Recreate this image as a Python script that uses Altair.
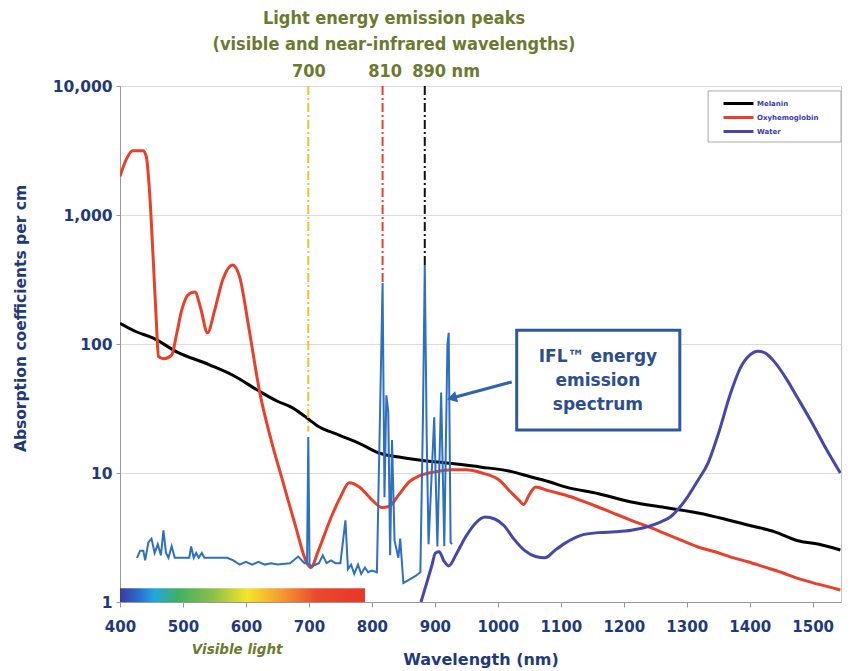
import altair as alt
import pandas as pd

# ---------------- data ----------------
mel_wl = [400, 425, 453, 490, 542, 580, 618, 650, 674, 700, 712, 748, 780, 811, 843, 875,
          922, 974, 1020, 1053, 1080, 1107, 1160, 1212, 1265, 1318, 1360, 1397, 1440, 1475, 1510, 1544]
mel_ab = [145, 125, 111, 87, 69, 57, 44, 36, 32, 26, 23.5, 19.7, 17, 14.3, 13.3, 12.6,
          11.9, 11.1, 10.3, 9.3, 8.6, 7.8, 6.9, 5.95, 5.4, 4.9, 4.4, 3.95, 3.5, 3.0, 2.8, 2.53]

oxy_wl = [400, 410, 420, 437, 442, 447, 453, 458, 461, 470, 482, 490, 498, 510, 519, 528, 539,
          550, 563, 579, 590, 605, 622, 640, 658, 678, 697, 703, 715, 735, 750, 764, 780, 800,
          816, 827, 843, 860, 875, 900, 927, 949, 975, 1001, 1022, 1033, 1041, 1050, 1060, 1080,
          1107, 1133, 1159, 1185, 1212, 1238, 1265, 1292, 1318, 1345, 1370, 1397, 1423, 1450,
          1475, 1510, 1544]
oxy_ab = [2000, 2700, 3150, 3150, 2800, 1500, 430, 140, 80, 77, 82, 120, 183, 245, 253, 190, 122,
          180, 313, 410, 331, 130, 42, 18, 8.8, 4.0, 2.0, 1.85, 2.5, 4.5, 6.5, 8.4, 7.8, 6.2,
          5.4, 5.5, 6.8, 8.6, 9.5, 10.2, 10.6, 10.6, 10.0, 8.9, 7.0, 6.2, 5.7, 6.8, 7.8, 7.3,
          6.75, 6.1, 5.45, 4.85, 4.3, 3.85, 3.4, 3.0, 2.67, 2.45, 2.23, 2.05, 1.87, 1.7,
          1.53, 1.37, 1.24]

wat_wl = [878, 887, 895, 901, 907, 914, 922, 935, 949, 965, 980, 995, 1010, 1025, 1043, 1060,
          1075, 1090, 1107, 1133, 1160, 1186, 1212, 1239, 1260, 1275, 1290, 1302, 1318, 1334,
          1350, 1370, 1385, 1400, 1413, 1425, 1440, 1460, 1475, 1500, 1518, 1544]
wat_ab = [1.0, 1.4, 1.9, 2.4, 2.45, 2.1, 1.9, 2.4, 3.2, 4.1, 4.55, 4.4, 3.9, 3.1, 2.5, 2.25,
          2.2, 2.5, 2.86, 3.3, 3.45, 3.5, 3.6, 3.85, 4.2, 4.6, 5.5, 6.6, 8.8, 12,
          20, 42, 65, 82, 88, 85, 72, 52, 39, 24, 16.5, 10]

ifl_wl = [427, 432, 437, 440, 445, 450, 455, 460, 465, 469, 473, 477, 482, 487, 510, 513, 517,
          521, 525, 530, 534, 540, 570, 580, 590, 600, 610, 620, 630, 640, 650, 670, 683, 693,
          697, 699, 701, 705, 716, 722, 728, 735, 742, 750, 758, 762, 767, 772, 778, 783, 789,
          794, 800, 808, 813, 817, 820, 823, 826, 829, 832, 836, 842, 845, 850, 860, 870, 877,
          881, 884, 887, 890, 899, 904, 910, 915, 920, 922, 925, 927]
ifl_ab = [2.2, 2.5, 2.5, 2.1, 2.9, 3.1, 2.4, 2.8, 2.3, 3.6, 2.4, 2.2, 2.7, 2.2, 2.2, 2.7, 2.2,
          2.4, 2.2, 2.4, 2.2, 2.2, 2.2, 2.1, 1.95, 2.05, 1.95, 2.05, 1.95, 2.0, 1.95, 2.0, 2.25, 2.0,
          2.0, 19, 1.95, 1.9, 2.0, 2.3, 2.0, 2.1, 2.0, 2.0, 4.3, 1.8, 1.95, 1.65, 1.95, 1.65, 1.85,
          1.7, 1.75, 1.7, 30, 297, 6.5, 40, 30, 2.3, 18, 3.0, 2.2, 3.1, 1.4, 1.5, 1.6, 1.7,
          25, 410, 20, 2.8, 27, 2.7, 42, 2.7, 100, 122, 2.9, 2.8]

series_names = ["Melanin", "Oxyhemoglobin", "Water"]
series_colors = ["#000000", "#e8402a", "#4547a9"]

peak_wl = [699, 817, 884]
peak_top = [21, 290, 410]
peak_colors = ["#f2c12e", "#e8402a", "#111111"]

peak_labels_c = ["700", "810"]
peak_label_c_wl = [700, 821]
peak_labels_l = ["890 nm"]
peak_label_l_wl = [864]

x_ticks = [400, 500, 600, 700, 800, 900, 1000, 1100, 1200, 1300, 1400, 1500]
y_ticks = [1, 10, 100, 1000, 10000]

callout_lines = ["IFL\u2122 energy", "emission", "spectrum"]
callout_line_ab = [79.3, 51.7, 33.7]
callout_center_wl = 1159
callout_box = {"wl0": 1030, "wl1": 1289, "ab0": 21.5, "ab1": 128}
arrow = {"wl0": 1022, "ab0": 50.8, "wl1": 927, "ab1": 38.1}

legend_box = {"wl0": 1334, "wl1": 1545, "ab0": 3680, "ab1": 9150}

visible_band = {"wl0": 400, "wl1": 789, "ab0": 1, "ab1": 1.28}

title_line1 = "Light energy emission peaks"
title_line2 = "(visible and near-infrared wavelengths)"

# ---------------- tables ----------------
rows = []
for name, wls, abs_ in [("Melanin", mel_wl, mel_ab), ("Oxyhemoglobin", oxy_wl, oxy_ab),
                        ("Water", wat_wl, wat_ab)]:
    for w, a in zip(wls, abs_):
        rows.append({"wl": w, "ab": a, "series": name})
series_df = pd.DataFrame(rows)
ifl_df = pd.DataFrame({"wl": ifl_wl, "ab": ifl_ab})
peaks_df = pd.DataFrame({"wl": peak_wl, "ab": [10000] * 3, "ab2": peak_top, "c": peak_colors})
plc_df = pd.DataFrame({"wl": peak_label_c_wl, "t": peak_labels_c})
pll_df = pd.DataFrame({"wl": peak_label_l_wl, "t": peak_labels_l})
callout_df = pd.DataFrame({"wl": [callout_center_wl] * 3, "ab": callout_line_ab, "t": callout_lines})


def rect_df(d):
    return pd.DataFrame([{"wl": d["wl0"], "wl2": d["wl1"], "ab": d["ab0"], "ab2": d["ab1"]}])


box_df = rect_df(callout_box)
lbox_df = rect_df(legend_box)
arrow_df = rect_df(arrow)
head_df = pd.DataFrame([{"wl": arrow["wl1"], "ab": arrow["ab1"]}])
band_df = rect_df(visible_band)
vis_df = pd.DataFrame({"t": ["Visible light"], "wl": [586]})

OLIVE = "#6b7a2f"
NAVY = "#1f3a7b"
COND = "'Liberation Sans Narrow', 'DejaVu Sans Condensed', 'Roboto Condensed', Roboto, sans-serif"

x_scale = alt.Scale(domain=[400, 1545], nice=False, zero=False)
y_scale = alt.Scale(type="log", domain=[1, 10000], nice=False)

x_axis = alt.Axis(values=x_ticks, format="d", grid=False, labelFont="DejaVu Sans",
                  labelFontWeight="bold", labelFontSize=15, labelColor=NAVY, labelFlush=False,
                  labelPadding=12, tickSize=5, tickColor="#999999", domainColor="#999999",
                  title="Wavelength (nm)", titleFont="DejaVu Sans", titleFontWeight="bold",
                  titleFontSize=16, titleColor=NAVY, titleY=57, titleBaseline="middle")
y_axis = alt.Axis(values=y_ticks, format=",", grid=True, gridColor="#dcdcdc",
                  labelFont="DejaVu Sans", labelFontWeight="bold", labelFontSize=15.5,
                  labelColor=NAVY, labelPadding=4, tickSize=4, tickColor="#999999",
                  domainColor="#999999", title="Absorption coefficients per cm",
                  titleFont="DejaVu Sans", titleFontWeight="bold", titleFontSize=15.5,
                  titleColor=NAVY, titleX=-100, titleY=232, titleAngle=270,
                  titleAlign="center", titleBaseline="middle")


def X(field="wl"):
    return alt.X(field + ":Q", scale=x_scale, axis=x_axis, title="Wavelength (nm)")


def Y(field="ab"):
    return alt.Y(field + ":Q", scale=y_scale, axis=y_axis, title="Absorption coefficients per cm")


lbox = alt.Chart(lbox_df).mark_rect(fill="white", stroke="#aaaaaa", strokeWidth=1).encode(
    x=X(), x2="wl2:Q", y=Y(), y2="ab2:Q")

series = alt.Chart(series_df).mark_line(strokeWidth=3, interpolate="monotone", clip=True).encode(
    x=X(), y=Y(),
    color=alt.Color("series:N", scale=alt.Scale(domain=series_names, range=series_colors),
                    legend=alt.Legend(orient="none", legendX=596, legendY=5, title=None,
                                      symbolType="stroke", symbolStrokeWidth=3, symbolSize=900,
                                      clipHeight=13, rowPadding=1, labelFontSize=7,
                                      labelFont="DejaVu Sans", labelFontWeight="bold",
                                      labelColor="#3a3aaa", labelOffset=2, padding=6)),
)

band = alt.Chart(band_df).mark_rect(
    color=alt.LinearGradient(
        gradient="linear", x1=0, x2=1, y1=0, y2=0,
        stops=[alt.GradientStop(color="#3b3aa0", offset=0),
               alt.GradientStop(color="#2a6fd0", offset=0.08),
               alt.GradientStop(color="#22a8e0", offset=0.14),
               alt.GradientStop(color="#40b060", offset=0.24),
               alt.GradientStop(color="#8cc04a", offset=0.38),
               alt.GradientStop(color="#f2e62a", offset=0.52),
               alt.GradientStop(color="#f59a30", offset=0.66),
               alt.GradientStop(color="#ea4a2c", offset=0.8),
               alt.GradientStop(color="#e8362a", offset=1)])
).encode(x=X(), x2="wl2:Q", y=Y(), y2="ab2:Q")

ifl = alt.Chart(ifl_df).mark_line(strokeWidth=2, color="#2f6fbf", clip=True).encode(x=X(), y=Y())

peak_rules = alt.Chart(peaks_df).mark_rule(strokeWidth=2, strokeDash=[9, 3, 2, 3]).encode(
    x=X(), y=Y(), y2="ab2:Q",
    color=alt.Color("c:N", scale=None, legend=None),
)

peak_text_c = alt.Chart(plc_df).mark_text(font=COND, fontWeight="bold", fontSize=18,
                                          color=OLIVE, baseline="middle", align="center").encode(
    x=X(), y=alt.value(-14), text="t:N")
peak_text_l = alt.Chart(pll_df).mark_text(font=COND, fontWeight="bold", fontSize=18,
                                          color=OLIVE, baseline="middle", align="left").encode(
    x=X(), y=alt.value(-14), text="t:N")

title1 = alt.Chart(pd.DataFrame({"t": [title_line1]})).mark_text(
    font=COND, fontWeight="bold", fontSize=18, color=OLIVE, baseline="middle", align="center"
).encode(x=alt.value(274), y=alt.value(-67), text="t:N")
title2 = alt.Chart(pd.DataFrame({"t": [title_line2]})).mark_text(
    font=COND, fontWeight="bold", fontSize=18, color=OLIVE, baseline="middle", align="center"
).encode(x=alt.value(274), y=alt.value(-41), text="t:N")

vis_text = alt.Chart(vis_df).mark_text(font="DejaVu Sans", fontWeight="bold", fontStyle="italic",
                                       fontSize=13.5, color=OLIVE, baseline="middle").encode(
    x=X(), y=alt.value(564), text="t:N")

box = alt.Chart(box_df).mark_rect(fill="white", stroke="#2e5a9c", strokeWidth=3).encode(
    x=X(), x2="wl2:Q", y=Y(), y2="ab2:Q")
callout = alt.Chart(callout_df).mark_text(font="DejaVu Sans", fontWeight="bold", fontSize=17,
                                          color="#2d4e8e", baseline="middle").encode(
    x=X(), y=Y(), text="t:N")

arrow_line = alt.Chart(arrow_df).mark_rule(strokeWidth=3, color="#2e64ad").encode(
    x=X(), x2="wl2:Q", y=Y(), y2="ab2:Q")
arrow_head = alt.Chart(head_df).mark_point(shape="triangle-left", filled=True, size=130,
                                           color="#2e64ad", angle=345, opacity=1).encode(
    x=X(), y=Y())

chart = alt.layer(
    series, lbox, band, ifl, peak_rules, peak_text_c, peak_text_l, title1, title2, vis_text,
    box, callout, arrow_line, arrow_head
).properties(
    width=721, height=516,
    autosize=alt.AutoSizeParams(type="none"),
    padding={"left": 112, "top": 78, "right": 2, "bottom": 66},
    background="white",
).configure_view(stroke="#c4c4c4", strokeWidth=1)

chart.save("out.html", embed_options={"renderer": "svg", "actions": False})
